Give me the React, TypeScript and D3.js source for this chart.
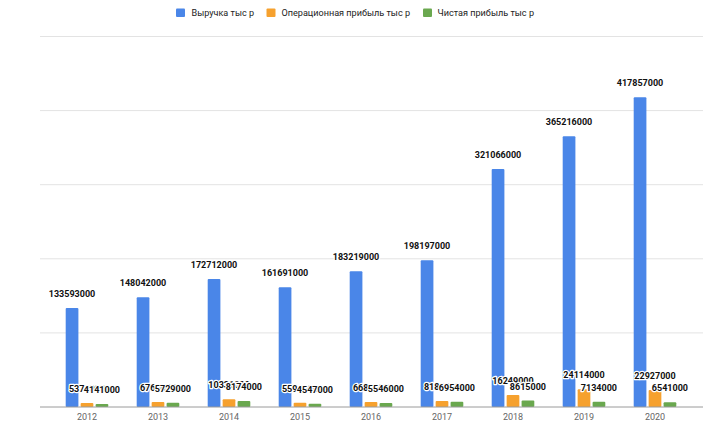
import React from "react";
import * as d3 from "d3";

const years = ["2012", "2013", "2014", "2015", "2016", "2017", "2018", "2019", "2020"];
const seriesNames = ["Выручка тыс р", "Операционная прибыль тыс р", "Чистая прибыль тыс р"];
const revenue = [133593000, 148042000, 172712000, 161691000, 183219000, 198197000, 321066000, 365216000, 417857000];
const operatingProfit = [5374000, 6765000, 10331000, 5594000, 6685000, 8186000, 16249000, 24114000, 22927000];
const netProfit = [4141000, 5729000, 8174000, 4547000, 5546000, 6954000, 8615000, 7134000, 6541000];
const gridTicks = [0, 100000000, 200000000, 300000000, 400000000, 500000000];
const colors = ["#4a86e8", "#f6a12e", "#6aa84f"];

const W = 714;
const H = 432;

export default function App() {
  const series = [revenue, operatingProfit, netProfit];
  const x = d3.scaleBand<string>().domain(years).range([51.5, 690.5]).paddingInner(0.4).paddingOuter(0.2);
  const xs = d3.scaleBand<number>().domain([0, 1, 2]).range([0, x.bandwidth()]).paddingInner(0.15);
  const y = d3.scaleLinear().domain([0, 500000000]).range([407, 36.5]);
  const gridLeft = 40;
  const gridRight = 703;
  const font = "Roboto, 'Noto Sans', Arial, sans-serif";

  // legend layout
  const legendItems = [
    { name: seriesNames[0], sx: 176, tx: 191.5, w: 62.5 },
    { name: seriesNames[1], sx: 266.5, tx: 281.5, w: 128.5 },
    { name: seriesNames[2], sx: 423, tx: 437.5, w: 96.5 },
  ];

  return (
    <div style={{ position: "fixed", left: 0, top: 0 }}>
      <svg width={W} height={H} style={{ display: "block", background: "#fff" }}>
        {/* gridlines */}
        {gridTicks.slice(1).map((t) => (
          <line key={t} x1={gridLeft} x2={gridRight} y1={y(t)} y2={y(t)} stroke="#e3e3e3" strokeWidth={1} />
        ))}
        {/* bars */}
        {years.map((yr, i) => (
          <g key={yr} transform={`translate(${x(yr)},0)`}>
            {series.map((s, k) => (
              <rect
                key={k}
                x={xs(k)}
                y={y(s[i])}
                width={xs.bandwidth()}
                height={y(0) - y(s[i])}
                fill={colors[k]}
                rx={1}
              />
            ))}
          </g>
        ))}
        {/* baseline */}
        <line x1={gridLeft} x2={gridRight} y1={y(0)} y2={y(0)} stroke="#9a9a9a" strokeWidth={1} />
        {/* data labels */}
        {series.map((s, k) =>
          years.map((yr, i) => (
            <text
              key={`${k}-${yr}`}
              x={(x(yr) as number) + (xs(k) as number) + xs.bandwidth() / 2}
              y={y(s[i]) - 14}
              dominantBaseline="central"
              textAnchor="middle"
              fontFamily={font}
              fontSize={9}
              fontWeight={700}
              fill="#111"
              stroke="#fff"
              strokeWidth={2.5}
              strokeLinejoin="round"
              style={{ paintOrder: "stroke" }}
            >
              {s[i]}
            </text>
          ))
        )}
        {/* x-axis labels */}
        {years.map((yr) => (
          <text
            key={yr}
            x={(x(yr) as number) + x.bandwidth() / 2}
            y={416.5}
            dominantBaseline="central"
            textAnchor="middle"
            fontFamily={font}
            fontSize={9}
            fill="#666"
          >
            {yr}
          </text>
        ))}
        {/* legend */}
        {legendItems.map((it, k) => (
          <g key={it.name}>
            <rect x={it.sx} y={8.5} width={9} height={8.5} fill={colors[k]} rx={1} />
            <text
              x={it.tx}
              y={12.8}
              dominantBaseline="central"
              fontFamily={font}
              fontSize={9.3}
              fill="#222"
              textLength={it.w}
              lengthAdjust="spacingAndGlyphs"
            >
              {it.name}
            </text>
          </g>
        ))}
      </svg>
    </div>
  );
}
